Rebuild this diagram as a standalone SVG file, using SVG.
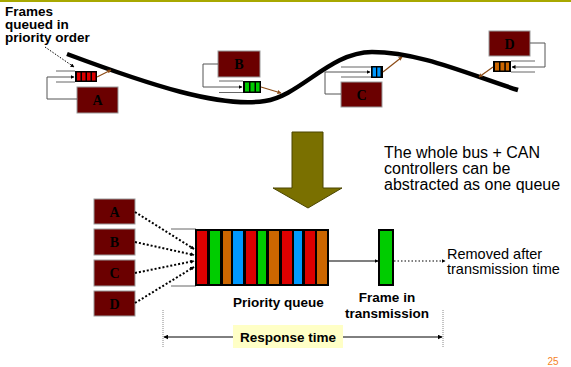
<svg xmlns="http://www.w3.org/2000/svg" width="571" height="367" viewBox="0 0 571 367">
<defs>
<marker id="ah" viewBox="0 0 8 8" refX="7" refY="4" markerWidth="5" markerHeight="5" orient="auto" markerUnits="userSpaceOnUse">
<path d="M0,0 L8,4 L0,8 z" fill="#000"/>
</marker>
<marker id="ahs" viewBox="0 0 8 8" refX="7" refY="4" markerWidth="4" markerHeight="4" orient="auto" markerUnits="userSpaceOnUse">
<path d="M0,0 L8,4 L0,8 z" fill="#000"/>
</marker>
<marker id="ahb" viewBox="0 0 8 8" refX="7" refY="4" markerWidth="4" markerHeight="4" orient="auto" markerUnits="userSpaceOnUse">
<path d="M0,0 L8,4 L0,8 z" fill="#8b4a14"/>
</marker>
<marker id="ahr" viewBox="0 0 8 8" refX="1" refY="4" markerWidth="5" markerHeight="5" orient="auto" markerUnits="userSpaceOnUse">
<path d="M8,0 L0,4 L8,8 z" fill="#000"/>
</marker>
</defs>
<style>
.box{fill:#6b0000;stroke:#9a9a9a;stroke-width:1}
.bl{font-family:"Liberation Serif","Times New Roman",serif;font-weight:bold;font-size:14px;fill:#000;text-anchor:middle}
.loop{fill:none;stroke:#555;stroke-width:1}
.rail{fill:none;stroke:#666;stroke-width:1}
.brown{fill:none;stroke:#8b4a14;stroke-width:1.2;marker-end:url(#ahb)}
.dot{fill:none;stroke:#000;stroke-width:2;stroke-dasharray:2 2}
.seg{stroke:#000;stroke-width:2}
.lbl{font-family:"Liberation Sans",Arial,sans-serif;font-weight:bold;font-size:13.5px;fill:#000}
.txt{font-family:"Liberation Sans",Arial,sans-serif;fill:#000}
.r{fill:#dd0000}.g{fill:#00cc00}.o{fill:#cc6600}.b{fill:#0099ff}
</style>
<rect width="571" height="367" fill="#fff"/>
<line x1="0" y1="1" x2="571" y2="1" stroke="#a8a800" stroke-width="2"/>

<g id="caption-frames">
<text class="lbl" x="5" y="16" font-size="12">Frames</text>
<text class="lbl" x="5" y="29" font-size="12">queued in</text>
<text class="lbl" x="5" y="42" font-size="12">priority order</text>
</g>

<g id="bus">
<path d="M67,54 C150,85 220,108 265,101 C300,96 330,52 372,52 C420,52 470,75 518,90" fill="none" stroke="#000" stroke-width="4.5" stroke-linecap="butt"/>
</g>

<g id="nodeA">
<rect class="box" x="77" y="87" width="41" height="26"/>
<text class="bl" x="97.5" y="105">A</text>
<rect x="75" y="71" width="22" height="11" fill="#000"/>
<rect class="r" x="77" y="72.5" width="3.5" height="8"/>
<rect class="r" x="82" y="72.5" width="3.5" height="8"/>
<rect class="r" x="87" y="72.5" width="3.5" height="8"/>
<rect class="r" x="92" y="72.5" width="3.5" height="8"/>
</g>
<g id="nodeB">
<rect class="box" x="218" y="51" width="42" height="26"/>
<text class="bl" x="239" y="69">B</text>
<rect x="243" y="81" width="18" height="12" fill="#000"/>
<rect class="g" x="245" y="82.5" width="4" height="9"/>
<rect class="g" x="250.5" y="82.5" width="4" height="9"/>
<rect class="g" x="256" y="82.5" width="3.5" height="9"/>
</g>
<g id="nodeC">
<rect class="box" x="341" y="82" width="41" height="25"/>
<text class="bl" x="361.5" y="100">C</text>
<rect x="371" y="66" width="12" height="12" fill="#000"/>
<rect class="b" x="372.7" y="67.5" width="3.3" height="9"/>
<rect class="b" x="377.3" y="67.5" width="3.2" height="9"/>
</g>
<g id="nodeD">
<rect class="box" x="489" y="31" width="41" height="25"/>
<text class="bl" x="509.5" y="49">D</text>
<rect x="493" y="61" width="18" height="11" fill="#000"/>
<rect class="o" x="495" y="62.5" width="4" height="8"/>
<rect class="o" x="500.5" y="62.5" width="3.8" height="8"/>
<rect class="o" x="505.8" y="62.5" width="3.2" height="8"/>
</g>

<g id="big-arrow">
<path d="M292,132 L323,132 L323,188 L342,188 L308,208 L273,188 L292,188 z" fill="#7a7000" stroke="#4a4500" stroke-width="1"/>
</g>

<g id="caption-abstract" class="txt" font-size="16">
<text x="384" y="158">The whole bus + CAN</text>
<text x="384" y="174">controllers can be</text>
<text x="384" y="190">abstracted as one queue</text>
</g>

<g id="boxA2"><rect class="box" x="94" y="199" width="41" height="25"/><text class="bl" x="114.5" y="217">A</text></g>
<g id="boxB2"><rect class="box" x="94" y="229" width="41" height="26"/><text class="bl" x="114.5" y="247">B</text></g>
<g id="boxC2"><rect class="box" x="94" y="260" width="41" height="26"/><text class="bl" x="114.5" y="278">C</text></g>
<g id="boxD2"><rect class="box" x="94" y="291" width="41" height="25"/><text class="bl" x="114.5" y="309">D</text></g>

<g id="priority-queue">
<line class="rail" x1="171" y1="229" x2="196" y2="229"/>
<line class="rail" x1="171" y1="286" x2="196" y2="286"/>
<rect class="seg r" x="196" y="230" width="12" height="55"/>
<rect class="seg g" x="209" y="230" width="12" height="55"/>
<rect class="seg o" x="222" y="230" width="10" height="55"/>
<rect class="seg b" x="232" y="230" width="12" height="55"/>
<rect class="seg r" x="245" y="230" width="12" height="55"/>
<rect class="seg g" x="257" y="230" width="10" height="55"/>
<rect class="seg o" x="268" y="230" width="12" height="55"/>
<rect class="seg r" x="281" y="230" width="12" height="55"/>
<rect class="seg b" x="293" y="230" width="10" height="55"/>
<rect class="seg r" x="304" y="230" width="12" height="55"/>
<rect class="seg o" x="316" y="230" width="12" height="55"/>
<text class="lbl" x="233" y="307">Priority queue</text>
</g>

<g id="frame">
<rect class="seg g" x="379" y="230" width="14" height="55"/>
<text class="lbl" x="387" y="302" text-anchor="middle">Frame in</text>
<text class="lbl" x="387" y="318" text-anchor="middle">transmission</text>
</g>

<g id="removed" class="txt" font-size="14.5">
<text x="447" y="259">Removed after</text>
<text x="447" y="274">transmission time</text>
</g>

<g id="response">
<line x1="163" y1="310" x2="163" y2="347" stroke="#888" stroke-width="1" stroke-dasharray="1 1"/>
<line x1="443" y1="310" x2="443" y2="347" stroke="#888" stroke-width="1" stroke-dasharray="1 1"/>
<line x1="164" y1="337" x2="442" y2="337" stroke="#000" stroke-width="1" marker-start="url(#ahr)" marker-end="url(#ah)"/>
<rect x="233" y="325" width="110" height="23" fill="#ffffc6"/>
<text class="lbl" x="288" y="342" text-anchor="middle">Response time</text>
</g>

<text x="553" y="365" font-family="Liberation Sans,Arial,sans-serif" font-size="10" fill="#f5821f" text-anchor="middle">25</text>

<g id="connectors">
<line x1="45" y1="47" x2="74" y2="67" stroke="#000" stroke-width="1" stroke-dasharray="1.5 1.5" marker-end="url(#ahs)"/>
<line class="rail" x1="56" y1="71" x2="75" y2="71"/>
<line class="rail" x1="56" y1="82" x2="75" y2="82"/>
<path class="loop" d="M77,99 H47 V77 H74" marker-end="url(#ahs)"/>
<path class="brown" d="M97,77 L111,70"/>

<line class="rail" x1="219" y1="81" x2="243" y2="81"/>
<line class="rail" x1="219" y1="92.5" x2="243" y2="92.5"/>
<path class="loop" d="M218,64 H203 V87 H242" marker-end="url(#ahs)"/>
<path class="brown" d="M261,87 L281,93"/>

<line class="rail" x1="341" y1="67" x2="371" y2="67"/>
<line class="rail" x1="341" y1="77" x2="371" y2="77"/>
<path class="loop" d="M341,94 H325 V72 H370" marker-end="url(#ahs)"/>
<path class="brown" d="M383,72 L402,57"/>

<line class="rail" x1="511" y1="61" x2="535" y2="61"/>
<line class="rail" x1="511" y1="72" x2="535" y2="72"/>
<path class="loop" d="M530,43 H545 V67 H512" marker-end="url(#ahs)"/>
<path class="brown" d="M493,67 L479,77"/>

<line class="dot" x1="135" y1="212" x2="194" y2="249" marker-end="url(#ahs)"/>
<line class="dot" x1="135" y1="242" x2="194" y2="255" marker-end="url(#ahs)"/>
<line class="dot" x1="135" y1="273" x2="194" y2="261" marker-end="url(#ahs)"/>
<line class="dot" x1="135" y1="303" x2="194" y2="267" marker-end="url(#ahs)"/>

<line x1="329" y1="261" x2="378" y2="261" stroke="#000" stroke-width="1.2" marker-end="url(#ahs)"/>
<line x1="394" y1="261" x2="445" y2="261" stroke="#000" stroke-width="1.2" stroke-dasharray="1.5 2" marker-end="url(#ahs)"/>
</g>
</svg>
